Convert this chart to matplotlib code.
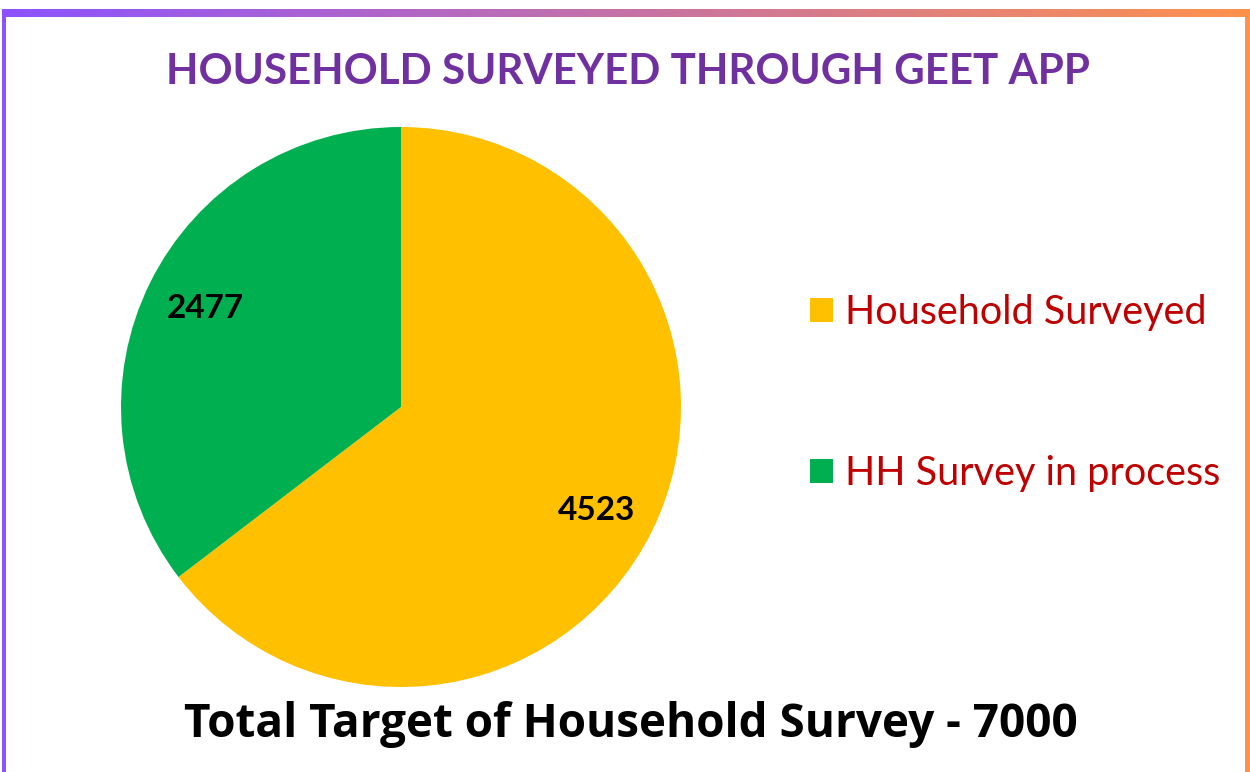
import matplotlib
matplotlib.use("Agg")
import matplotlib.pyplot as plt
import numpy as np
from matplotlib.colors import LinearSegmentedColormap
from matplotlib.patches import Rectangle

labels = ["Household Surveyed", "HH Survey in process"]
values = [4523, 2477]
colors = ["#FFC000", "#00B050"]
title = "HOUSEHOLD SURVEYED THROUGH GEET APP"
footer = "Total Target of Household Survey - 7000"

W, H = 1250, 772
fig = plt.figure(figsize=(W / 100, H / 100), dpi=100)
fig.patch.set_facecolor("white")

# gradient frame
bg = fig.add_axes([0, 0, 1, 1])
bg.set_xlim(0, W)
bg.set_ylim(H, 0)
bg.axis("off")
cmap = LinearSegmentedColormap.from_list("g", ["#8C52FF", "#FF914D"])
grad = np.linspace(0, 1, 256).reshape(1, -1)
bg.imshow(grad, cmap=cmap, aspect="auto", extent=[2, W, H, 9], zorder=0)
bg.add_patch(Rectangle((6, 17), 1239, H, facecolor="white", edgecolor="none", zorder=1))

# pie
cx, cy, r = 401, 407, 280
ax = fig.add_axes([(cx - r) / W, (H - cy - r) / H, 2 * r / W, 2 * r / H])
wedges, _ = ax.pie(values, colors=colors, startangle=90, counterclock=False,
                   radius=1, wedgeprops=dict(linewidth=0))
ax.set_xlim(-1, 1)
ax.set_ylim(-1, 1)
ax.set_aspect("auto")
ax.axis("off")

# data labels
label_pos = [(0.70, -0.37), (-0.70, 0.35)]
for v, (x, y) in zip(values, label_pos):
    ax.text(x, y, f"{v}", ha="center", va="center", fontsize=24,
            fontweight="bold", color="black", family="Lato")

fig.text(628 / W, 1 - 72 / H, title, ha="center", va="center", fontsize=30.3,
         fontweight="bold", color="#7030A0", family="Lato")
fig.text(631 / W, 1 - 724 / H, footer, ha="center", va="center", fontsize=33,
         fontweight="bold", color="black", family="Open Sans")

leg = fig.legend(wedges, labels, loc="upper left", bbox_to_anchor=(810 / W, 1 - 294 / H),
                 frameon=False, prop=dict(family="Lato", size=28.5),
                 borderpad=0, borderaxespad=0,
                 handlelength=0.58, handleheight=0.58, handletextpad=0.3,
                 labelspacing=3.13)
for t in leg.get_texts():
    t.set_color("#C00000")

fig.savefig("out.png", dpi=100)
